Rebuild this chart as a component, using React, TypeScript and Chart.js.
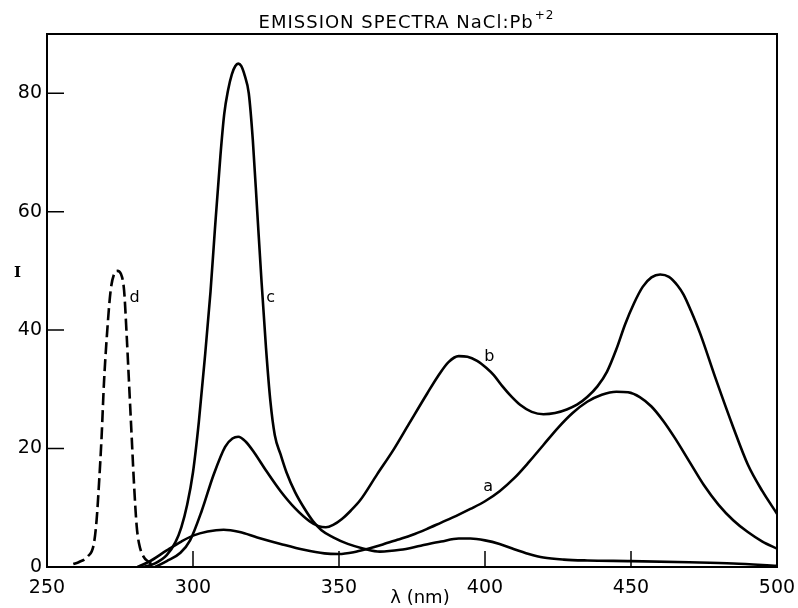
import React, { useEffect, useRef } from "react";
import { Chart, registerables } from "chart.js";

Chart.register(...registerables);

// ---- data ----
const waveA = [281, 285, 291, 296, 300, 305, 310.5, 316, 322, 330, 338, 345, 350, 355, 360, 365, 370, 375, 380, 385, 390, 395, 400, 405, 410, 415, 420, 425, 430, 435, 440, 445, 449, 453, 457, 461, 465, 470, 475, 480, 485, 490, 495, 500];
const intensityA = [0, 0.9, 2.8, 4.3, 5.3, 6.0, 6.3, 5.9, 5.0, 3.9, 2.9, 2.3, 2.2, 2.5, 3.1, 3.8, 4.6, 5.4, 6.4, 7.5, 8.6, 9.8, 11.1, 12.8, 15.0, 17.7, 20.6, 23.5, 26, 27.9, 29.1, 29.6, 29.5, 28.7, 27.1, 24.7, 21.8, 17.8, 13.8, 10.5, 7.9, 5.9, 4.3, 3.1];

const waveB = [287, 291, 295.7, 299, 303, 307, 311, 313.5, 315.5, 318, 321, 325, 330, 335, 340, 343, 345.5, 348, 351, 354, 357.3, 363, 368.8, 374, 380.2, 384, 387.5, 391, 394, 397.3, 400.5, 403, 406, 409, 412, 416, 420, 424, 428, 431.5, 435, 438.5, 441.8, 445, 448, 451, 454, 457, 460, 463, 466, 468, 470.5, 473.7, 479, 485, 490, 495, 500];
const intensityB = [0, 1, 2.4, 4.5, 9.5, 15.5, 20.3, 21.7, 22, 21.2, 19.3, 16.3, 12.8, 9.9, 7.7, 6.9, 6.7, 7.1, 8.1, 9.5, 11.3, 15.6, 19.9, 24.2, 29.3, 32.3, 34.6, 35.6, 35.5, 34.8, 33.6, 32.4, 30.5, 28.8, 27.4, 26.2, 25.8, 26, 26.6, 27.4, 28.7, 30.5, 33, 36.8, 41, 44.5, 47.3, 48.9, 49.4, 49, 47.5, 46.0, 43.3, 39.4, 31.8, 23.6, 17.3, 12.8, 9.0];

const waveC = [283, 287, 291, 294, 296, 298, 300, 302, 304, 306, 307.5, 309.4, 310.7, 312, 313.3, 314.5, 315.5, 316.5, 317.7, 319.1, 320.5, 322, 323.5, 325, 326.5, 328, 330, 332, 335, 338, 341, 344, 348, 353, 358.5, 364, 371, 378, 385, 391, 395, 400, 405, 410, 415, 420, 427, 435, 450, 470, 485, 500];
const intensityC = [0, 0.6, 2, 4.2, 6.7, 10.5, 16, 24.5, 35, 46.5, 57, 69.5, 76.5, 80.5, 83.2, 84.6, 85, 84.6, 83, 80, 72, 60, 48, 37, 28, 22.3, 19, 16, 12.6, 10, 7.8, 6.2, 5, 3.9, 3.1, 2.6, 2.9, 3.6, 4.3, 4.8, 4.8, 4.5, 3.9, 3.0, 2.2, 1.6, 1.25, 1.1, 1.0, 0.8, 0.6, 0.2];

const waveD = [259, 261, 264, 266, 267, 267.8, 268.7, 269.5, 270.5, 271.8, 273, 274.1, 275.3, 276.4, 277.3, 278.1, 279, 279.8, 280.7, 281.5, 283, 284.9, 286];
const intensityD = [0.5, 0.85, 1.8, 3.8, 8, 14, 22, 31, 39, 46.7, 49.5, 50, 49.5, 46.7, 39, 31, 22, 14, 7, 4, 1.8, 0.85, 0.4];

const xTicks = [250, 300, 350, 400, 450, 500];
const yTicks = [0, 20, 40, 60, 80];
const xInnerTicks = [300, 350, 400, 450];
const yInnerTicks = [20, 40, 60, 80];

const curveLabels = ["a", "b", "c", "d"];
const curveLabelX = [401.1, 401.5, 326.6, 280.0];
const curveLabelY = [13.5, 35.5, 45.4, 45.5];

const titleText = "EMISSION SPECTRA NaCl:Pb";
const titleSup = "+2";
const xTitle = "λ (nm)";
const yTitle = "I";

const pts = (xs: number[], ys: number[]) => xs.map((x, i) => ({ x, y: ys[i] }));

const FONT = "'DejaVu Sans', sans-serif";

const decorPlugin = {
  id: "decor",
  afterDraw(chart: any) {
    const ctx = chart.ctx as CanvasRenderingContext2D;
    const { left, right, top, bottom } = chart.chartArea;
    const xs = chart.scales.x;
    const ys = chart.scales.y;
    ctx.save();
    ctx.strokeStyle = "#000";
    ctx.fillStyle = "#000";
    // frame
    ctx.lineWidth = 2;
    ctx.strokeRect(left, top, right - left, bottom - top);
    // inward ticks
    ctx.lineWidth = 1.5;
    ctx.beginPath();
    yInnerTicks.forEach((v) => {
      const y = ys.getPixelForValue(v);
      ctx.moveTo(left, y);
      ctx.lineTo(left + 17, y);
    });
    xInnerTicks.forEach((v) => {
      const x = xs.getPixelForValue(v);
      ctx.moveTo(x, bottom);
      ctx.lineTo(x, bottom - 16);
    });
    ctx.stroke();

    // title with superscript
    (ctx as any).letterSpacing = "1px";
    ctx.font = `18px ${FONT}`;
    ctx.textBaseline = "alphabetic";
    ctx.textAlign = "left";
    const wMain = ctx.measureText(titleText).width;
    ctx.font = `12px ${FONT}`;
    const wSup = ctx.measureText(titleSup).width;
    const cx = 407;
    const startX = cx - (wMain + wSup + 2) / 2;
    ctx.font = `18px ${FONT}`;
    ctx.fillText(titleText, startX, 28);
    ctx.font = `12px ${FONT}`;
    ctx.fillText(titleSup, startX + wMain + 1, 19);
    (ctx as any).letterSpacing = "0px";

    // axis titles
    ctx.font = `18px ${FONT}`;
    ctx.textAlign = "center";
    ctx.fillText(xTitle, 420, 603);
    ctx.font = `bold 15px 'DejaVu Serif', serif`;
    ctx.textBaseline = "middle";
    ctx.fillText(yTitle, 17.5, 273);

    // curve labels
    ctx.font = `16px ${FONT}`;
    ctx.textBaseline = "middle";
    curveLabels.forEach((t, i) => {
      ctx.fillText(t, xs.getPixelForValue(curveLabelX[i]), ys.getPixelForValue(curveLabelY[i]));
    });
    ctx.restore();
  },
};

export default function App() {
  const ref = useRef<HTMLCanvasElement | null>(null);
  useEffect(() => {
    document.body.style.margin = "0";
    const canvas = ref.current!;
    const common = {
      borderColor: "#000",
      backgroundColor: "#000",
      borderWidth: 2.6,
      pointRadius: 0,
      fill: false,
      cubicInterpolationMode: "monotone" as const,
    };
    const chart = new Chart(canvas, {
      type: "line",
      data: {
        datasets: [
          { ...common, label: "a", data: pts(waveA, intensityA) },
          { ...common, label: "b", data: pts(waveB, intensityB) },
          { ...common, label: "c", data: pts(waveC, intensityC) },
          { ...common, label: "d", data: pts(waveD, intensityD), borderDash: [12, 5] },
        ],
      },
      options: {
        animation: false,
        responsive: false,
        devicePixelRatio: 1,
        layout: { padding: { top: 34, right: 21, left: 0, bottom: 0 } },
        plugins: { legend: { display: false }, tooltip: { enabled: false }, title: { display: false } },
        scales: {
          x: {
            type: "linear",
            min: 250,
            max: 500,
            grid: { display: false, drawTicks: false },
            border: { display: false },
            afterFit: (s: any) => {
              s.height = 41;
              s.paddingLeft = 0;
              s.paddingRight = 0;
            },
            afterBuildTicks: (s: any) => {
              s.ticks = xTicks.map((v) => ({ value: v }));
            },
            ticks: {
              color: "#000",
              font: { family: FONT, size: 19 },
              padding: 10,
              maxRotation: 0,
              autoSkip: false,
              callback: (v: any) => String(v),
            },
          },
          y: {
            type: "linear",
            min: 0,
            max: 90,
            grid: { display: false, drawTicks: false },
            border: { display: false },
            afterFit: (s: any) => {
              s.width = 47;
              s.paddingTop = 0;
              s.paddingBottom = 0;
            },
            afterBuildTicks: (s: any) => {
              s.ticks = yTicks.map((v) => ({ value: v }));
            },
            ticks: {
              color: "#000",
              font: { family: FONT, size: 19 },
              padding: 5,
              autoSkip: false,
              callback: (v: any) => String(v),
            },
          },
        },
      },
      plugins: [decorPlugin],
    } as any);
    return () => chart.destroy();
  }, []);
  return (
    <div style={{ position: "absolute", left: 0, top: 0, width: 798, height: 608, background: "#fff" }}>
      <canvas ref={ref} width={798} height={608} style={{ width: 798, height: 608, display: "block" }} />
    </div>
  );
}
